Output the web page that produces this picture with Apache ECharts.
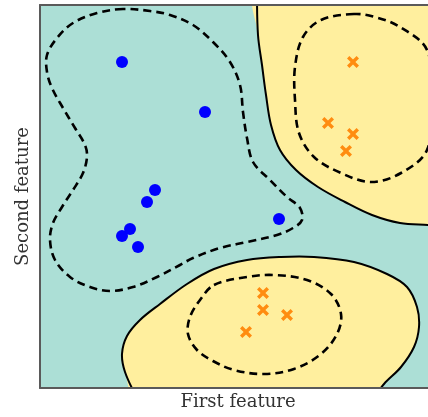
<!DOCTYPE html>
<html>
<head>
<meta charset="utf-8">
<script src="https://cdn.jsdelivr.net/npm/echarts@6/dist/echarts.min.js"></script>
<style>
  html, body { margin: 0; padding: 0; background: #fff; }
  #chart { width: 428px; height: 417px; }
</style>
</head>
<body>
<div id="chart"></div>
<script>
// class 0 samples (blue dots)
const classA = [
  [8.2, 32.6], [16.5, 27.6], [11.5, 19.8], [10.7, 18.6],
  [23.9, 16.9], [9.0, 15.9], [8.2, 15.2], [9.8, 14.1]
]
// class 1 samples (orange crosses)
const classB = [
  [31.3, 32.6], [28.8, 26.5], [31.3, 25.4], [30.6, 23.7],
  [22.3, 9.5], [22.3, 7.8], [24.7, 7.3], [20.6, 5.6]
]

// decision boundary, upper right region
const boundaryTop = [
  [21.7, 39.5], [21.8, 35.3], [22.2, 32.3], [22.6, 29.3], [23.1, 26.3],
  [24.0, 23.8], [25.6, 21.8], [27.8, 20.1], [30.5, 18.6], [33.2, 17.3],
  [36.0, 16.5], [38.8, 16.3], [40.5, 16.2]
]
const cornersTop = [[40.5, 39.5]]

// decision boundary, lower region
const boundaryBottom = [
  [9.7, -1.0], [8.5, 1.6], [8.2, 3.4], [8.7, 5.2], [10.0, 6.8], [12.0, 8.4],
  [14.7, 10.4], [17.4, 11.9], [20.7, 12.8], [24.1, 13.1], [27.4, 13.1],
  [31.4, 12.6], [34.7, 11.4], [36.7, 10.1], [37.7, 8.1], [37.9, 6.1],
  [37.4, 4.1], [36.1, 2.1], [34.4, 0.4], [33.4, -1.0]
]

// margins (dashed)
const marginLeft = [
  [8.3, 37.9], [5.7, 37.5], [3.3, 36.5], [1.7, 35.0], [0.7, 33.3], [0.7, 31.6],
  [1.2, 30.0], [2.3, 28.0], [3.5, 26.0], [4.5, 24.3], [4.7, 23.1], [4.3, 21.5],
  [3.3, 19.8], [2.2, 18.1], [1.3, 16.5], [1.0, 14.8], [1.5, 12.8], [3.0, 11.1],
  [5.0, 10.1], [7.0, 9.7], [9.3, 10.1], [11.7, 11.1], [14.0, 12.3], [15.3, 13.0],
  [18.0, 14.0], [20.7, 14.6], [23.7, 15.3], [25.3, 16.0], [26.2, 16.8],
  [26.0, 18.0], [24.7, 19.1], [23.0, 20.8], [21.3, 22.6], [20.7, 25.0],
  [20.3, 27.6], [20.0, 30.3], [19.0, 32.6], [17.3, 34.6], [15.3, 36.3],
  [13.0, 37.3], [11.0, 37.7]
]
const marginTop = [
  [31.4, 37.4], [28.1, 36.8], [26.3, 35.1], [25.5, 32.1], [25.5, 28.8],
  [25.9, 25.5], [27.4, 23.1], [30.1, 21.5], [33.1, 20.6], [36.1, 21.5],
  [38.7, 23.8], [39.2, 28.8], [38.7, 33.8], [36.0, 36.1], [33.5, 37.1]
]
const marginBottom = [
  [17.4, 10.3], [20.7, 11.1], [23.4, 11.3], [26.7, 10.8], [29.1, 9.4],
  [30.1, 7.4], [29.7, 5.4], [28.1, 3.4], [25.4, 1.9], [22.4, 1.4],
  [19.4, 1.8], [17.3, 2.7], [15.7, 3.8], [14.8, 5.4], [15.0, 7.1], [16.0, 8.8]
]

const teal = '#acdfd6'
const yellow = '#ffef9e'
const frame = '#5a5a5a'

function shape(points, kind, style) {
  return {
    type: 'custom',
    coordinateSystem: 'cartesian2d',
    clip: true,
    silent: true,
    data: points,
    encode: { x: 0, y: 1 },
    renderItem: (params, api) => {
      if (params.dataIndex !== 0) return null
      return {
        type: kind,
        shape: { points: points.map((p) => api.coord(p)), smooth: 0.35 },
        style: style,
      }
    },
  }
}

const fillStyle = { fill: yellow, stroke: null }
const solidStyle = { fill: null, stroke: '#000', lineWidth: 2 }
const dashStyle = { fill: null, stroke: '#000', lineWidth: 2.6, lineDash: [8, 5] }

const hidden = { axisTick: { show: false }, axisLabel: { show: false }, splitLine: { show: false } }
const nameStyle = { fontFamily: 'DejaVu Serif', fontSize: 18, color: '#333' }

const chart = echarts.init(document.getElementById('chart'))

chart.setOption({
  animation: false,
  grid: { left: 40, top: 5, right: 0, bottom: 29, show: true, backgroundColor: teal, borderWidth: 0 },
  xAxis: [
    {
      type: 'value', min: 0, max: 38.8, z: 10,
      name: 'First feature', nameLocation: 'middle', nameGap: 5,
      nameTextStyle: { ...nameStyle, padding: [0, 0, 0, 8] },
      axisLine: { show: true, lineStyle: { color: frame, width: 2 } },
      ...hidden,
    },
    {
      type: 'value', min: 0, max: 38.8, position: 'top', z: 10,
      axisLine: { show: true, lineStyle: { color: frame, width: 2 } },
      ...hidden,
    },
  ],
  yAxis: {
    type: 'value', min: 0, max: 38.3, z: 10,
    name: 'Second feature', nameLocation: 'middle', nameGap: 8, nameTextStyle: nameStyle,
    axisLine: { show: true, lineStyle: { color: frame, width: 2 } },
    ...hidden,
  },
  series: [
    shape(boundaryTop.concat(cornersTop), 'polygon', fillStyle),
    shape(boundaryBottom, 'polygon', fillStyle),
    shape(boundaryTop, 'polyline', solidStyle),
    shape(boundaryBottom, 'polyline', solidStyle),
    shape(marginLeft, 'polygon', dashStyle),
    shape(marginTop, 'polygon', dashStyle),
    shape(marginBottom, 'polygon', dashStyle),
    {
      type: 'scatter',
      data: classA,
      symbol: 'circle',
      symbolSize: 12,
      itemStyle: { color: '#0000ff', opacity: 1 },
      z: 5,
    },
    {
      type: 'scatter',
      data: classB,
      symbol: 'path://M2,0L5,3L8,0L10,2L7,5L10,8L8,10L5,7L2,10L0,8L3,5L0,2Z',
      symbolSize: 12,
      itemStyle: { color: '#ff8c10', opacity: 1 },
      z: 5,
    },
  ],
})
</script>
</body>
</html>
